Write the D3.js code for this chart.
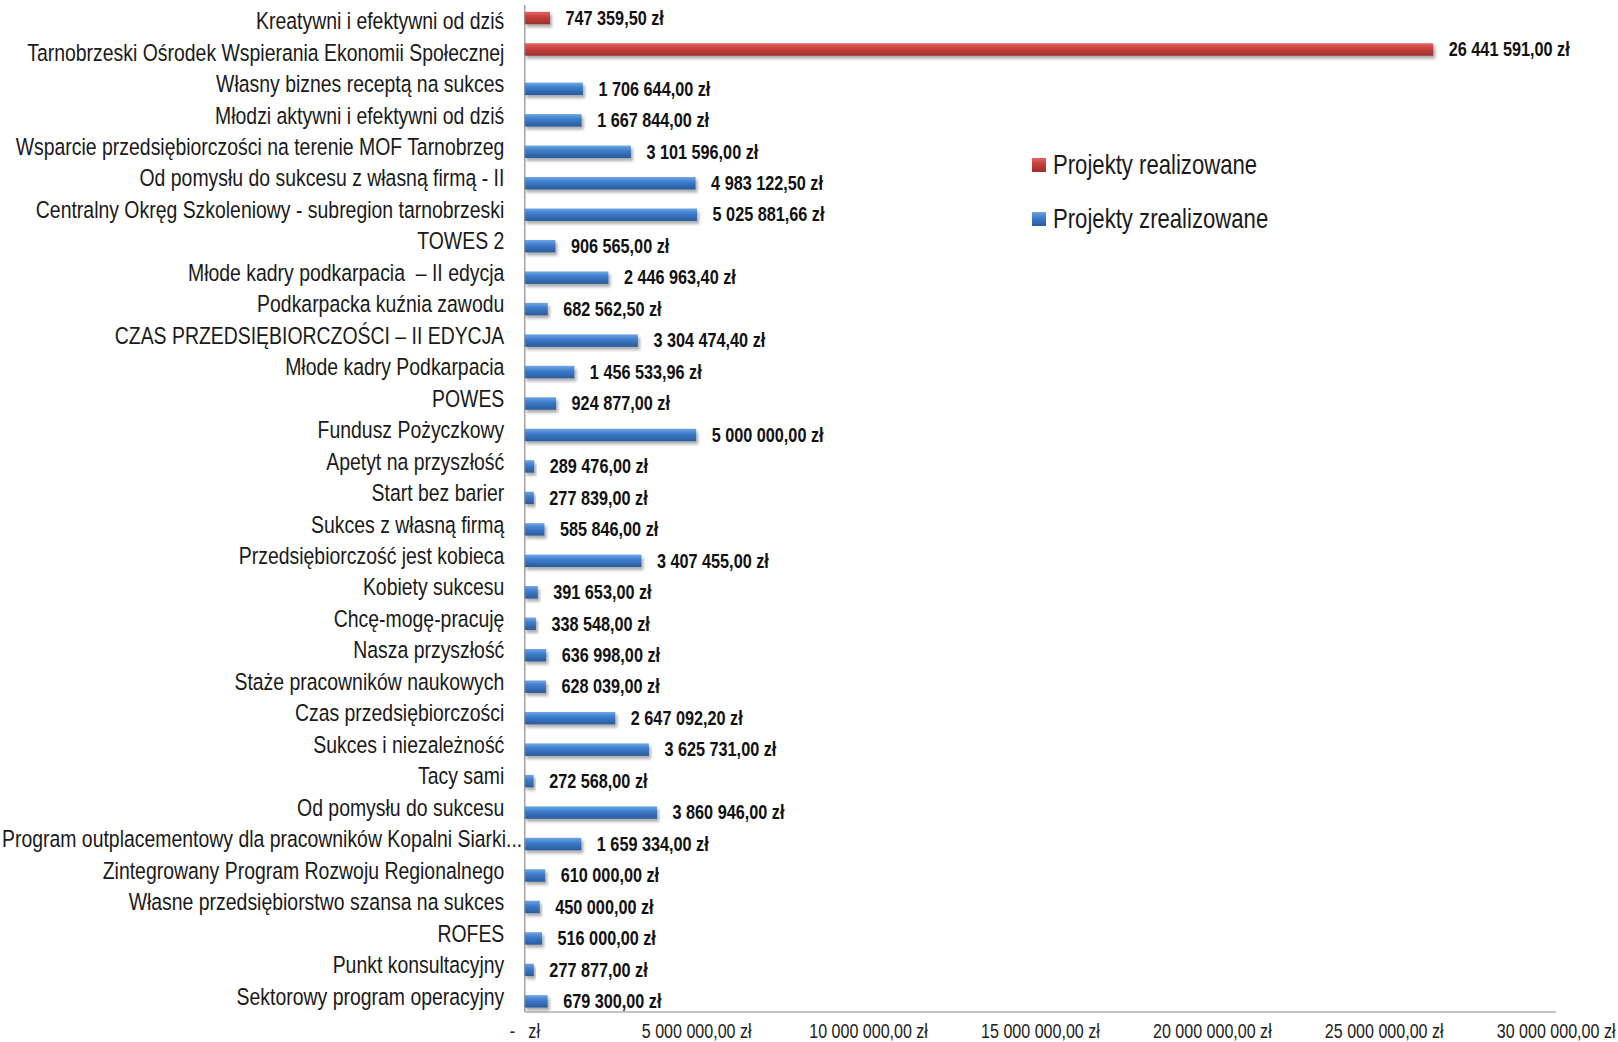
<!DOCTYPE html>
<html>
<head>
<meta charset="utf-8">
<script src="https://cdn.jsdelivr.net/npm/d3@7"></script>
<style>
  html, body { margin: 0; padding: 0; background: #ffffff; }
  svg { display: block; }
</style>
</head>
<body>
<svg id="chart" width="1618" height="1042"></svg>
<script>
// ---------------- data ----------------
const categories = [
  "Kreatywni i efektywni od dziś",
  "Tarnobrzeski Ośrodek Wspierania Ekonomii Społecznej",
  "Własny biznes receptą na sukces",
  "Młodzi aktywni i efektywni od dziś",
  "Wsparcie przedsiębiorczości na terenie MOF Tarnobrzeg",
  "Od pomysłu do sukcesu z własną firmą - II",
  "Centralny Okręg Szkoleniowy - subregion tarnobrzeski",
  "TOWES 2",
  "Młode kadry podkarpacia  – II edycja",
  "Podkarpacka kuźnia zawodu",
  "CZAS PRZEDSIĘBIORCZOŚCI – II EDYCJA",
  "Młode kadry Podkarpacia",
  "POWES",
  "Fundusz Pożyczkowy",
  "Apetyt na przyszłość",
  "Start bez barier",
  "Sukces z własną firmą",
  "Przedsiębiorczość jest kobieca",
  "Kobiety sukcesu",
  "Chcę-mogę-pracuję",
  "Nasza przyszłość",
  "Staże pracowników naukowych",
  "Czas przedsiębiorczości",
  "Sukces i niezależność",
  "Tacy sami",
  "Od pomysłu do sukcesu",
  "Program outplacementowy dla pracowników Kopalni Siarki...",
  "Zintegrowany Program Rozwoju Regionalnego",
  "Własne przedsiębiorstwo szansa na sukces",
  "ROFES",
  "Punkt konsultacyjny",
  "Sektorowy program operacyjny"
];

const seriesNames = ["Projekty realizowane", "Projekty zrealizowane"];

// values of "Projekty realizowane" (null = no bar)
const realizowane = [
  747359.50, 26441591.00, null, null, null, null, null, null,
  null, null, null, null, null, null, null, null,
  null, null, null, null, null, null, null, null,
  null, null, null, null, null, null, null, null
];

// values of "Projekty zrealizowane" (null = no bar)
const zrealizowane = [
  null, null, 1706644.00, 1667844.00, 3101596.00, 4983122.50, 5025881.66, 906565.00,
  2446963.40, 682562.50, 3304474.40, 1456533.96, 924877.00, 5000000.00, 289476.00, 277839.00,
  585846.00, 3407455.00, 391653.00, 338548.00, 636998.00, 628039.00, 2647092.20, 3625731.00,
  272568.00, 3860946.00, 1659334.00, 610000.00, 450000.00, 516000.00, 277877.00, 679300.00
];

const tickValues = [0, 5000000, 10000000, 15000000, 20000000, 25000000, 30000000];
const xMax = 30000000;

// ---------------- fonts ----------------
function hasFont(name) {
  const c = document.createElement("canvas").getContext("2d");
  const s = "abcdefghijklmnopqrstuvwxyzABCDEFGHIJ0123456789";
  c.font = "40px monospace";
  const a = c.measureText(s).width;
  c.font = `40px "${name}", monospace`;
  const b = c.measureText(s).width;
  return Math.abs(a - b) > 0.5;
}
let FAMILY, SX;
if (hasFont("Liberation Sans Narrow")) { FAMILY = '"Liberation Sans Narrow"'; SX = 1; }
else if (hasFont("Arial Narrow")) { FAMILY = '"Arial Narrow"'; SX = 1; }
else { FAMILY = '"Liberation Sans", Arial, sans-serif'; SX = 0.82; }

// ---------------- formatting ----------------
const pl = d3.formatLocale({ decimal: ",", thousands: "\u00a0", grouping: [3], currency: ["", "\u00a0zł"] });
const fmtMoney = v => pl.format(",.2f")(v) + " zł";
const fmtTick = v => v === 0 ? "-\u00a0\u00a0\u00a0zł" : fmtMoney(v);

// ---------------- layout ----------------
const svg = d3.select("#chart");
const x = d3.scaleLinear().domain([0, xMax]).range([524.3, 1555.6]);
const y = d3.scaleBand().domain(categories).range([4.6, 1011.5]);
const sub = d3.scalePoint().domain(seriesNames)
  .range([y.bandwidth() * 0.427, y.bandwidth() * 0.678]);
const barH = 12.5;
const colors = { "Projekty realizowane": "red", "Projekty zrealizowane": "blue" };

// defs: gradients + shadow
const defs = svg.append("defs");
function grad(id, stops) {
  const g = defs.append("linearGradient").attr("id", id)
    .attr("x1", 0).attr("y1", 0).attr("x2", 0).attr("y2", 1);
  stops.forEach(([o, c]) => g.append("stop").attr("offset", o).attr("stop-color", c));
}
grad("g-blue", [["0%", "#6fa6e4"], ["40%", "#3d7dcc"], ["100%", "#2a5a9a"]]);
grad("g-red", [["0%", "#e46563"], ["40%", "#c93f3c"], ["100%", "#98302d"]]);
const f = defs.append("filter").attr("id", "shadow")
  .attr("x", "-10%").attr("y", "-50%").attr("width", "130%").attr("height", "250%");
f.append("feDropShadow").attr("dx", 2).attr("dy", 3).attr("stdDeviation", 1.6)
  .attr("flood-color", "#000").attr("flood-opacity", 0.32);

// records
const records = [];
categories.forEach((c, i) => {
  if (realizowane[i] != null) records.push({ cat: c, series: seriesNames[0], value: realizowane[i] });
  if (zrealizowane[i] != null) records.push({ cat: c, series: seriesNames[1], value: zrealizowane[i] });
});

// bars
svg.append("g").selectAll("rect").data(records).join("rect")
  .attr("x", x(0))
  .attr("y", d => y(d.cat) + sub(d.series) - barH / 2)
  .attr("width", d => x(d.value) - x(0))
  .attr("height", barH)
  .attr("fill", d => colors[d.series] === "red" ? "url(#g-red)" : "url(#g-blue)")
  .attr("filter", "url(#shadow)");

// text helper
function placeText(sel, xf, yf) {
  sel.attr("transform", (d, i) => `translate(${xf(d, i)},${yf(d, i)}) scale(${SX},1)`);
}

// data labels
const dl = svg.append("g").selectAll("text").data(records).join("text")
  .attr("font-family", FAMILY)
  .attr("font-weight", "bold")
  .attr("font-size", 19.8)
  .attr("fill", "#111")
  .attr("dy", "0.34em")
  .text(d => fmtMoney(d.value));
placeText(dl, d => x(d.value) + 15.5, d => y(d.cat) + sub(d.series));

// axes
const axisColor = "#8c8c8c";
const gx = svg.append("g").attr("transform", `translate(0,${y.range()[1]})`)
  .call(d3.axisBottom(x).tickValues(tickValues).tickFormat(fmtTick).tickSize(0).tickSizeOuter(0).tickPadding(12.5));
gx.select(".domain").attr("stroke", axisColor).attr("stroke-width", 1.2);
gx.selectAll(".tick text")
  .attr("font-family", FAMILY).attr("font-size", 19.6).attr("fill", "#222")
  .style("white-space", "pre")
  .attr("transform", `scale(${SX},1)`);

const gy = svg.append("g").attr("transform", `translate(${x(0)},0)`)
  .call(d3.axisLeft(y).tickSize(0).tickSizeOuter(0).tickPadding(20));
gy.select(".domain").attr("stroke", axisColor).attr("stroke-width", 1.2);
gy.selectAll(".tick text")
  .attr("font-family", FAMILY).attr("font-size", 23.7).attr("fill", "#1a1a1a")
  .attr("dy", "0.37em")
  .style("white-space", "pre");
gy.selectAll(".tick text").each(function () {
  const t = d3.select(this);
  const tx = +t.attr("x");
  t.attr("x", null).attr("transform", `translate(${tx},0) scale(${SX},1)`);
  const w = this.getComputedTextLength() * SX;
  const left = x(0) + tx - w;
  if (left < 2) {
    t.attr("text-anchor", "start")
     .attr("transform", `translate(${2 - x(0)},0) scale(${SX},1)`);
  }
});

// legend
const lg = svg.append("g").selectAll("g").data(seriesNames).join("g")
  .attr("transform", (d, i) => `translate(1032,${165 + i * 54})`);
lg.append("rect").attr("x", 0).attr("y", -7).attr("width", 14).attr("height", 14)
  .attr("fill", d => colors[d] === "red" ? "url(#g-red)" : "url(#g-blue)");
lg.append("text")
  .attr("font-family", FAMILY).attr("font-size", 27).attr("fill", "#1a1a1a")
  .attr("dy", "0.34em")
  .attr("transform", `translate(21,0) scale(${SX},1)`)
  .text(d => d);
</script>
</body>
</html>
